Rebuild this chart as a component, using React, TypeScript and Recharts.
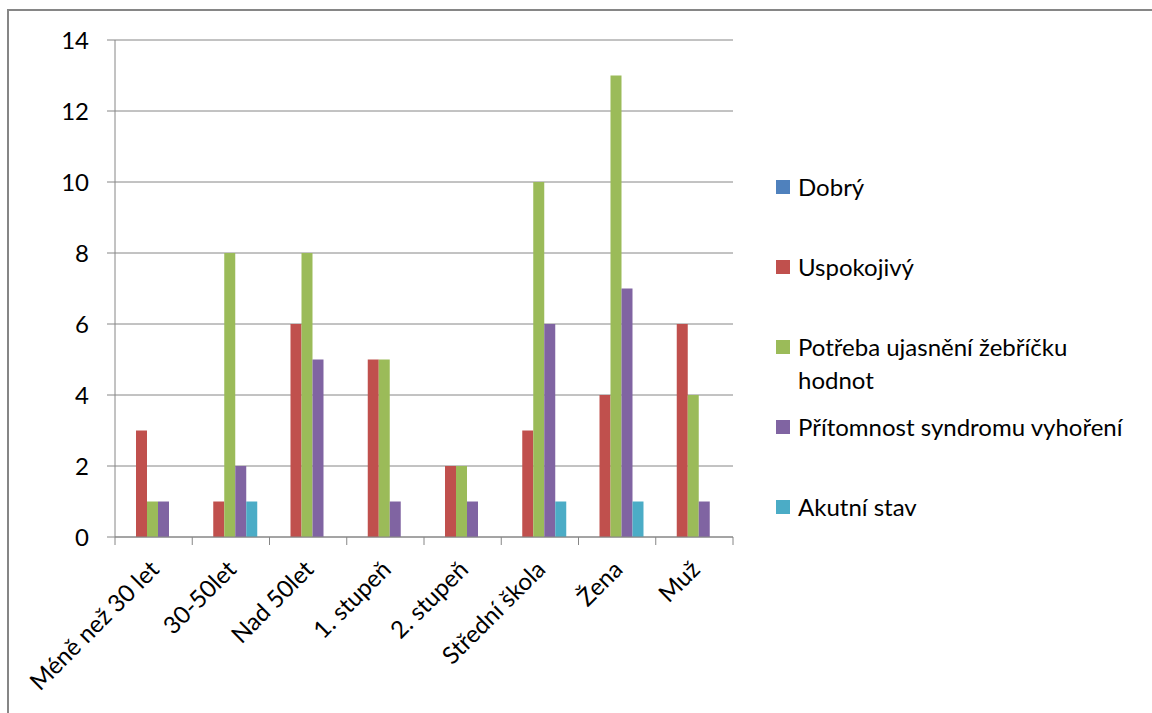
import React from 'react';
import { BarChart, Bar, XAxis, YAxis, CartesianGrid, Legend } from 'recharts';

const categories = ['Méně než 30 let', '30-50let', 'Nad 50let', '1. stupeň', '2. stupeň', 'Střední škola', 'Žena', 'Muž'];
const dobry = [0, 0, 0, 0, 0, 0, 0, 0];
const uspokojivy = [3, 1, 6, 5, 2, 3, 4, 6];
const potreba = [1, 8, 8, 5, 2, 10, 13, 4];
const pritomnost = [1, 2, 5, 1, 1, 6, 7, 1];
const akutni = [0, 1, 0, 0, 0, 1, 1, 0];
const seriesNames = ['Dobrý', 'Uspokojivý', 'Potřeba ujasnění žebříčku hodnot', 'Přítomnost syndromu vyhoření', 'Akutní stav'];
const seriesColors = ['#4F81BD', '#C0504D', '#9BBB59', '#8064A2', '#4BACC6'];
const yTicks = [0, 2, 4, 6, 8, 10, 12, 14];
const yDomain = [0, 14];

const seriesValues = [dobry, uspokojivy, potreba, pritomnost, akutni];
const data = categories.map((name, i) => {
  const row: Record<string, any> = { name };
  seriesValues.forEach((vals, s) => {
    row['s' + s] = vals[i];
  });
  return row;
});

const FONT = 'Lato, "Open Sans", sans-serif';
const FS = 24;
const GRAY = '#868686';
const TICK_LEN = 8;
const grayLine = { stroke: GRAY };
const yTickStyle = { fontSize: FS, fill: '#000', fontFamily: FONT };

const XTick = (props: any) => {
  const { x, y, payload, index, visibleTicksCount } = props;
  const half = payload && typeof payload.offset === 'number' ? payload.offset : 0;
  const ax = x + 7;
  const ay = y + 34;
  const isLast = index === visibleTicksCount - 1;
  return (
    <g>
      <line x1={x - half} y1={y} x2={x - half} y2={y + TICK_LEN} stroke={GRAY} />
      {isLast && <line x1={x + half} y1={y} x2={x + half} y2={y + TICK_LEN} stroke={GRAY} />}
      <text
        x={ax}
        y={ay}
        transform={`rotate(-45, ${ax}, ${ay})`}
        textAnchor="end"
        fontSize={FS}
        fontFamily={FONT}
        fill="#000"
      >
        {payload.value}
      </text>
    </g>
  );
};

const xTickEl = <XTick />;

const LegendContent = () => {
  return (
    <div style={{ position: 'relative', width: 376, height: 400, fontFamily: FONT }}>
      {seriesNames.map((n, i) => (
        <div
          key={n}
          style={{ position: 'absolute', top: i * 80, left: 0, display: 'flex', alignItems: 'flex-start' }}
        >
          <span
            style={{ display: 'inline-block', width: 14, height: 14, background: seriesColors[i], marginTop: 10, marginRight: 8, flex: 'none' }}
          />
          <span style={{ display: 'inline-block', width: 338, lineHeight: '33px', fontSize: FS, color: '#000' }}>
            {n}
          </span>
        </div>
      ))}
    </div>
  );
};
const legendEl = <LegendContent />;
const legendWrap = { position: 'absolute', left: 776, top: 170, width: 376, height: 400 } as const;
const chartMargin = { top: 40, right: 419, bottom: 0, left: 0 };

export default function App() {
  return (
    <div style={{ position: 'absolute', left: 0, top: 0, width: 1152, height: 713, overflow: 'hidden', background: '#fff' }}>
      <div
        style={{ position: 'absolute', left: 7, top: 9, width: 1200, height: 800, border: `2px solid ${GRAY}`, boxSizing: 'border-box' }}
      />
      <div style={{ position: 'absolute', left: 0, top: 0 }}>
        <BarChart
          width={1152}
          height={713}
          data={data}
          margin={chartMargin}
          barCategoryGap={10}
          barGap={0}
        >
          <CartesianGrid vertical={false} stroke={GRAY} />
          <XAxis
            dataKey="name"
            type="category"
            interval={0}
            height={176}
            tickSize={0}
            tickMargin={0}
            axisLine={grayLine}
            tickLine={false}
            tick={xTickEl}
          />
          <YAxis
            domain={yDomain}
            ticks={yTicks}
            interval={0}
            width={115}
            tickSize={TICK_LEN}
            tickMargin={18}
            axisLine={grayLine}
            tickLine={grayLine}
            tick={yTickStyle}
          />
          {seriesNames.map((n, s) => (
            <Bar
              key={n}
              dataKey={'s' + s}
              name={n}
              fill={seriesColors[s]}
              isAnimationActive={false}
            />
          ))}
          <Legend
            layout="vertical"
            align="center"
            verticalAlign="middle"
            content={legendEl}
            wrapperStyle={legendWrap}
          />
        </BarChart>
      </div>
    </div>
  );
}
